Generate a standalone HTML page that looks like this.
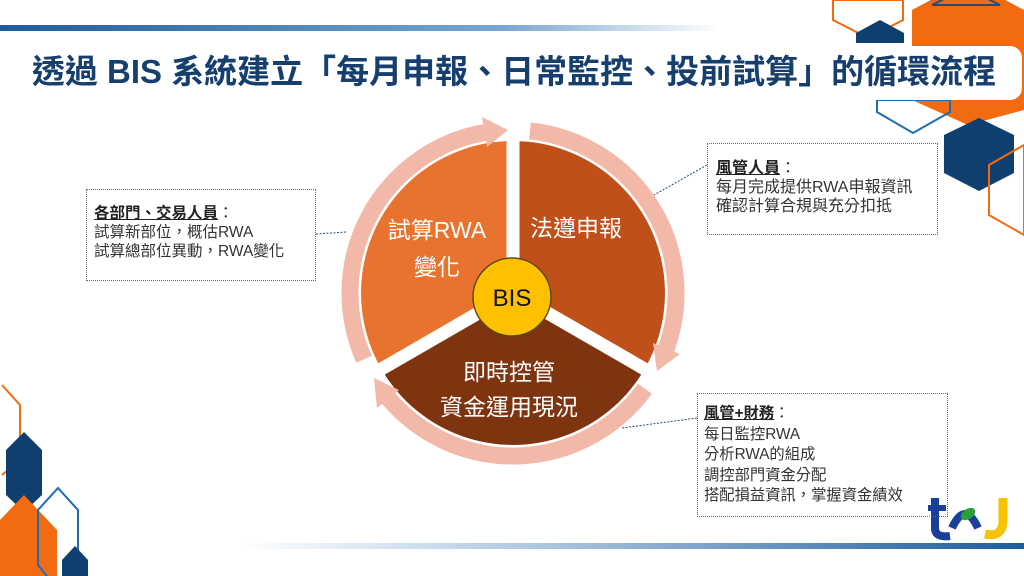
<!DOCTYPE html>
<html><head><meta charset="utf-8"><style>
body{margin:0;width:1024px;height:576px;overflow:hidden;background:#fff;font-family:"Liberation Sans","Noto Sans CJK TC",sans-serif;position:relative}
.abs{position:absolute}
.box{position:absolute;border:1px dotted #5a6a7a;color:#333;box-sizing:border-box;white-space:nowrap}
.box b{text-decoration:underline;color:#222}
</style></head><body>
<svg class="abs" style="left:0;top:0" width="1024" height="576">
<defs>
<linearGradient id="g1" x1="0" x2="1"><stop offset="0" stop-color="#1d5c9c"/><stop offset="0.7" stop-color="#7aa6cf"/><stop offset="1" stop-color="#fff"/></linearGradient>
<linearGradient id="g2" x1="0" x2="1"><stop offset="0" stop-color="#fff"/><stop offset="0.4" stop-color="#a8c4e0"/><stop offset="1" stop-color="#1d5c9c"/></linearGradient>
</defs>
<rect x="0" y="25" width="720" height="6" fill="url(#g1)"/>
<rect x="240" y="543" width="784" height="6" fill="url(#g2)"/>
<polygon points="912,10 968,-20 1024,10 1024,110 968,125 912,100" fill="#f26b10"/>
<polygon points="932,5 966,-12 1000,5" fill="none" stroke="#1d4e7e" stroke-width="2"/>
<polygon points="833,0 833,20 868,38 903,20 903,0" fill="none" stroke="#f26b10" stroke-width="2"/>
<polygon points="856,33 880,20 904,33 904,43 856,43" fill="#0f3f6e"/>
<polygon points="877,100 877,112 913,133 950,112 950,100" fill="none" stroke="#1d6cb5" stroke-width="2"/>
<polygon points="944,135 979,118 1014,135 1014,173 979,191 944,173" fill="#0f3f6e"/>
<polygon points="1024,145 989,165 989,215 1024,235" fill="none" stroke="#f26b10" stroke-width="2"/>
<rect x="0" y="46" width="1022" height="54" rx="12" fill="#fff"/>
<polyline points="2,385 20,405 20,460 2,475" fill="none" stroke="#f26b10" stroke-width="2"/>
<polygon points="6,450 24,432 42,450 42,495 24,512 6,495" fill="#0f3f6e"/>
<polygon points="0,520 24,495 57,530 57,576 0,576" fill="#f26b10"/>
<polygon points="38,510 58,488 78,510 78,565 58,590 38,565" fill="none" stroke="#1d6cb5" stroke-width="2"/>
<polygon points="62,560 75,546 88,560 88,576 62,576" fill="#0f3f6e"/>
<path d="M513,293 L381.4,369 A152,152 0 0 1 513,141 Z" fill="#e8732f"/>
<path d="M513,293 L513,141 A152,152 0 0 1 644.6,369 Z" fill="#c0501a"/>
<path d="M513,293 L644.6,369 A152,152 0 0 1 381.4,369 Z" fill="#7f3410"/>
<g stroke="#fff" stroke-width="13">
<line x1="513" y1="293" x2="513" y2="130"/>
<line x1="513" y1="293" x2="655" y2="375"/>
<line x1="513" y1="293" x2="371" y2="375"/>
</g>
<g fill="none" stroke="#f2b8a8" stroke-width="17">
<path d="M364.1,359.3 A163,163 0 0 1 484.7,132.5"/>
<path d="M530,130.9 A163,163 0 0 1 666.2,348.7"/>
<path d="M644.9,388.8 A163,163 0 0 1 388.1,397.8"/>
</g>
<g fill="#f2b8a8">
<polygon points="487,147 482,117 508,130"/>
<polygon points="653,343 680,354 657,371"/>
<polygon points="399,390 377,408 374,378"/>
</g>
<circle cx="512" cy="297" r="39" fill="#ffc000" stroke="#5a4a1a" stroke-width="1.5"/>
<text x="512" y="306" text-anchor="middle" font-size="24" fill="#111" font-family="Liberation Sans">BIS</text>
<g fill="#fff" font-size="23" text-anchor="middle" font-family="Liberation Sans,Noto Sans CJK TC,sans-serif">
<text x="437" y="238">試算RWA</text>
<text x="437" y="275">變化</text>
<text x="576" y="236">法遵申報</text>
<text x="509" y="380">即時控管</text>
<text x="509" y="415">資金運用現況</text>
</g>
<g stroke="#2a4a6a" stroke-width="1" stroke-dasharray="2,1.5" fill="none">
<line x1="316" y1="234" x2="346" y2="232"/>
<line x1="707" y1="165" x2="654" y2="195"/>
<line x1="697" y1="418" x2="622" y2="428"/>
</g>
<g>
<path d="M935,498 L935,528 Q935,538 950,536" fill="none" stroke="#1a3f99" stroke-width="8"/>
<line x1="928" y1="508" x2="946" y2="508" stroke="#1a3f99" stroke-width="6"/>
<path d="M952,528 Q965,500 978,528" fill="none" stroke="#1a3f99" stroke-width="8"/>
<ellipse cx="968" cy="514" rx="8" ry="5" fill="#2aa03a" transform="rotate(-35 968 514)"/>
<path d="M1003,498 L1003,520 Q1003,538 985,534" fill="none" stroke="#f5c400" stroke-width="9"/>
</g>
</svg>
<div class="abs" style="left:0;top:51px;width:1028px;text-align:center;font-size:33px;line-height:42px;font-weight:bold;color:#163f6e;white-space:nowrap">透過 BIS 系統建立「每月申報、日常監控、投前試算」的循環流程</div>
<div class="box" style="left:86px;top:189px;width:230px;height:92px;padding:14px 0 0 7px;font-size:15.5px;line-height:19px"><b>各部門、交易人員</b>：<br>試算新部位，概估RWA<br>試算總部位異動，RWA變化</div>
<div class="box" style="left:707px;top:143px;width:231px;height:92px;padding:15px 0 0 8px;font-size:16px;line-height:19px"><b>風管人員</b>：<br>每月完成提供RWA申報資訊<br>確認計算合規與充分扣抵</div>
<div class="box" style="left:697px;top:393px;width:251px;height:124px;padding:10px 0 0 6px;font-size:15.3px;line-height:20.5px"><b>風管+財務</b>：<br>每日監控RWA<br>分析RWA的組成<br>調控部門資金分配<br>搭配損益資訊，掌握資金績效</div>
</body></html>
